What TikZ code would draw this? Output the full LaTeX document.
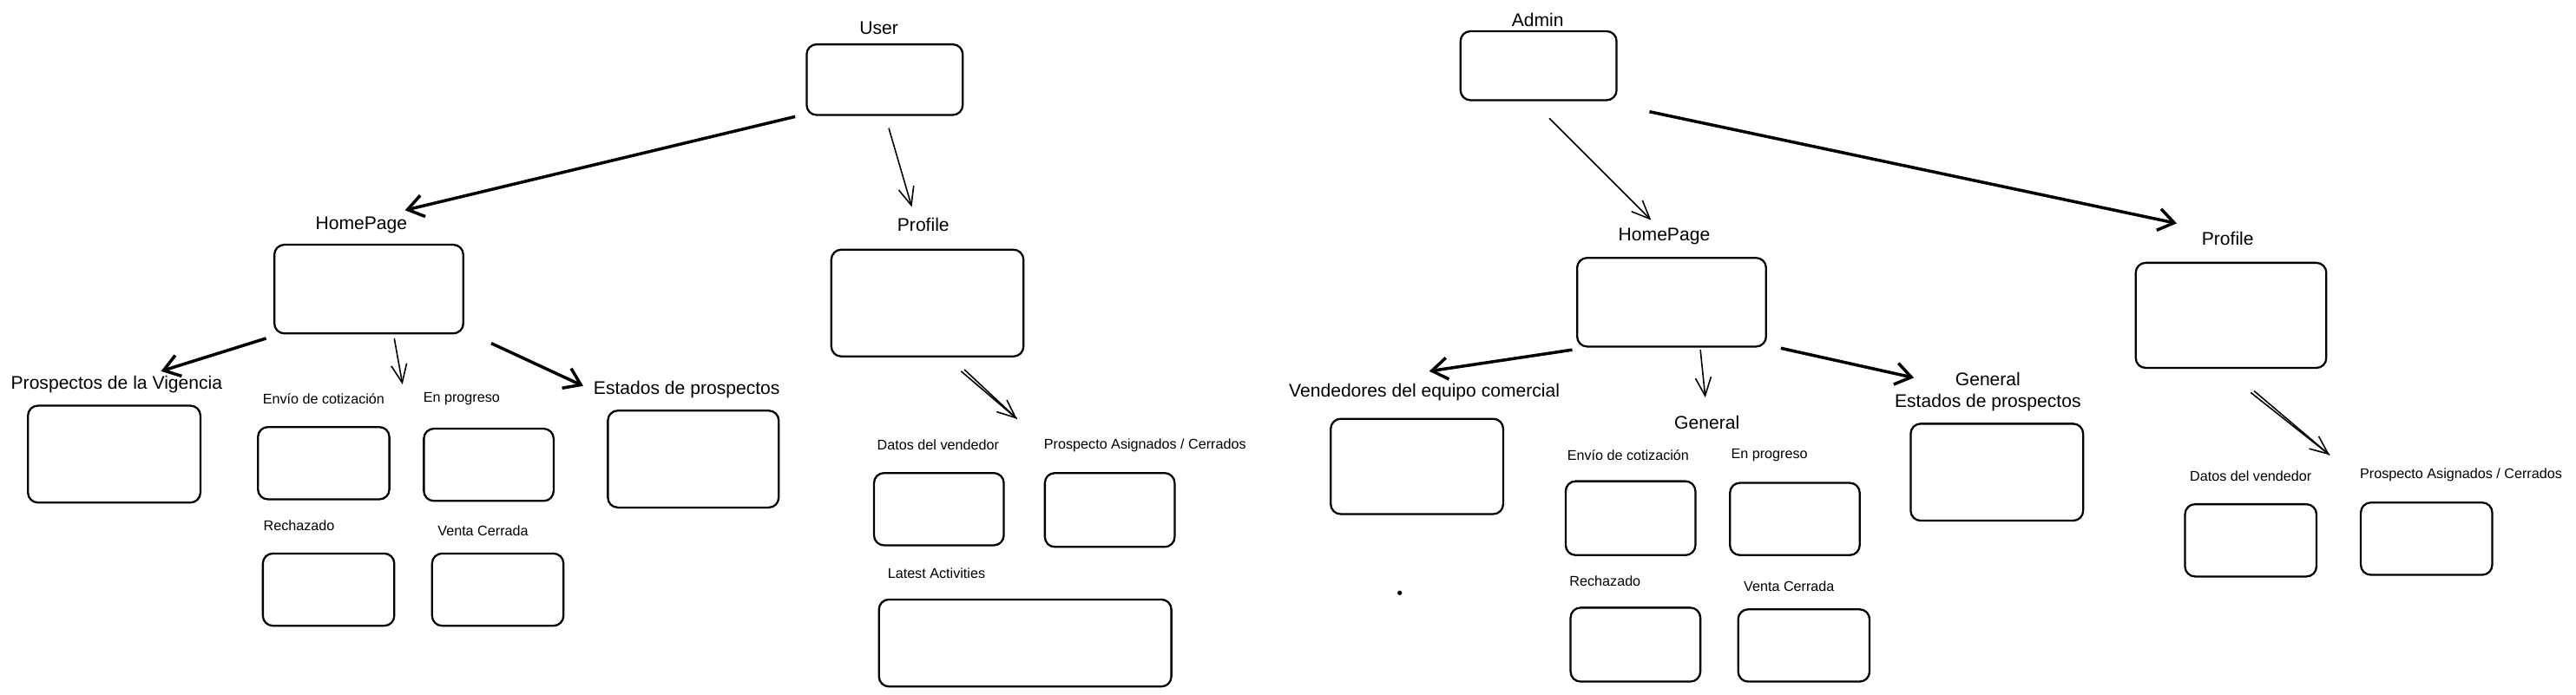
\documentclass[tikz,border=0pt]{standalone}
\usepackage{fontspec}
\setmainfont{Liberation Sans}
\usetikzlibrary{arrows.meta}

\begin{document}
\begin{tikzpicture}[x=0.03786cm,y=-0.03786cm,
  card/.style={draw,line width=1.3pt,rounded corners=2.3mm,inner sep=0pt,outer sep=0pt},
  big/.style={font=\fontsize{12}{14}\selectfont,align=center,inner sep=0pt},
  small/.style={font=\fontsize{9.2}{11}\selectfont,inner sep=0pt},
  heavy/.style={line width=2pt,-{Straight Barb[length=3.6mm,width=5mm]}},
  light/.style={line width=0.9pt,-{Straight Barb[length=4.2mm,width=3.6mm]}}]
  \useasboundingbox (0,0) rectangle (1568,423);
  \foreach \n/\x/\y/\w/\h in {user/538.5/48.5/95/43,hp1/224.5/176/115/54,prof1/564.5/184.5/117/65,prosp/69.5/276.5/105/59,envio1/197/282/80/44,enprog1/297.5/283/79/44,estados1/422/279.5/104/59,rech1/200/359/80/44,venta1/303/359/80/44,datos1/571.5/310/79/44,asig1/675.5/310.5/79/45,latest/624/391.5/178/53,admin/936.5/40/95/42,hp2/1017.5/184/115/54,prof2/1358/192/116/64,vend/862.5/284/105/58,envio2/992.5/315.5/79/45,enprog2/1092.5/316/79/44,rech2/995.5/392.5/79/45,venta2/1098/393/80/44,estados2/1215.5/287.5/105/59,datos2/1370/329/80/44,asig2/1477/328/80/44}{\node[card,minimum width=\w*0.03786cm,minimum height=\h*0.03786cm] (\n) at (\x,\y) {};}
  \foreach \n/\x/\y/\t in {userlbl/535/17/User,hp1lbl/220/137/HomePage,prof1lbl/562/137/Profile,prosplbl/71/234/Prospectos de la Vigencia,estados1lbl/418/237/Estados de prospectos,adminlbl/936/12/Admin,hp2lbl/1013/144/HomePage,prof2lbl/1356/145/Profile,vendlbl/867/239/Vendedores del equipo comercial,generallbl/1039/257/General,estados2lbl/1210/238.5/{General\\Estados de prospectos}}{\node[big] (\n) at (\x,\y) {\t};}
  \foreach \n/\x/\y/\t in {envio1lbl/197/243/Envío de cotización,enprog1lbl/281/243/En progreso,rech1lbl/182/320/Rechazado,venta1lbl/294/323/Venta Cerrada,datos1lbl/571/271/Datos del vendedor,asig1lbl/697/271/{Prospecto Asignados / Cerrados},latestlbl/570/349/Latest Activities,envio2lbl/991/277/Envío de cotización,enprog2lbl/1077/277/En progreso,rech2lbl/977/354/Rechazado,venta2lbl/1089/357/Venta Cerrada,datos2lbl/1370/290/Datos del vendedor,asig2lbl/1498/289/{Prospecto Asignados / Cerrados}}{\node[small] (\n) at (\x,\y) {\t};}
  \draw[heavy] ([shift={(-7,1)}]user.south west) -- ([shift={(22,-21)}]hp1.north);
  \draw[light] ([shift={(2.5,8)}]user.south) -- ([shift={(-9.5,-26)}]prof1.north);
  \draw[heavy] ([shift={(-5,3)}]hp1.south west) -- ([shift={(28.5,-21)}]prosp.north);
  \draw[light] ([shift={(15.5,3)}]hp1.south) -- ([shift={(8,-26)}]envio1.north east);
  \draw[heavy] ([shift={(17,6)}]hp1.south east) -- ([shift={(-15,-15)}]estados1.north west);
  \draw[light] ([shift={(20.5,9)}]prof1.south) -- ([shift={(8,-33)}]datos1.north east);
  \draw[line width=0.9pt] ([shift={(22.5,8)}]prof1.south) -- ([shift={(8,-33)}]datos1.north east);
  \draw[light] ([shift={(6.5,11)}]admin.south) -- ([shift={(-12.5,-23)}]hp2.north);
  \draw[heavy] ([shift={(20,7)}]admin.south east) -- ([shift={(25,-24)}]prof2.north west);
  \draw[heavy] ([shift={(-3,2)}]hp2.south west) -- ([shift={(7.5,-29)}]vend.north);
  \draw[light] ([shift={(17.5,2)}]hp2.south) -- ([shift={(6,-51)}]envio2.north east);
  \draw[heavy] ([shift={(9,1)}]hp2.south east) -- ([shift={(2,-28)}]estados2.north west);
  \draw[light] ([shift={(12,15)}]prof2.south) -- ([shift={(8,-30)}]datos2.north east);
  \draw[line width=0.9pt] ([shift={(14,14)}]prof2.south) -- ([shift={(8,-30)}]datos2.north east);
  \fill (852,361) circle (1.5pt);
\end{tikzpicture}
\end{document}
